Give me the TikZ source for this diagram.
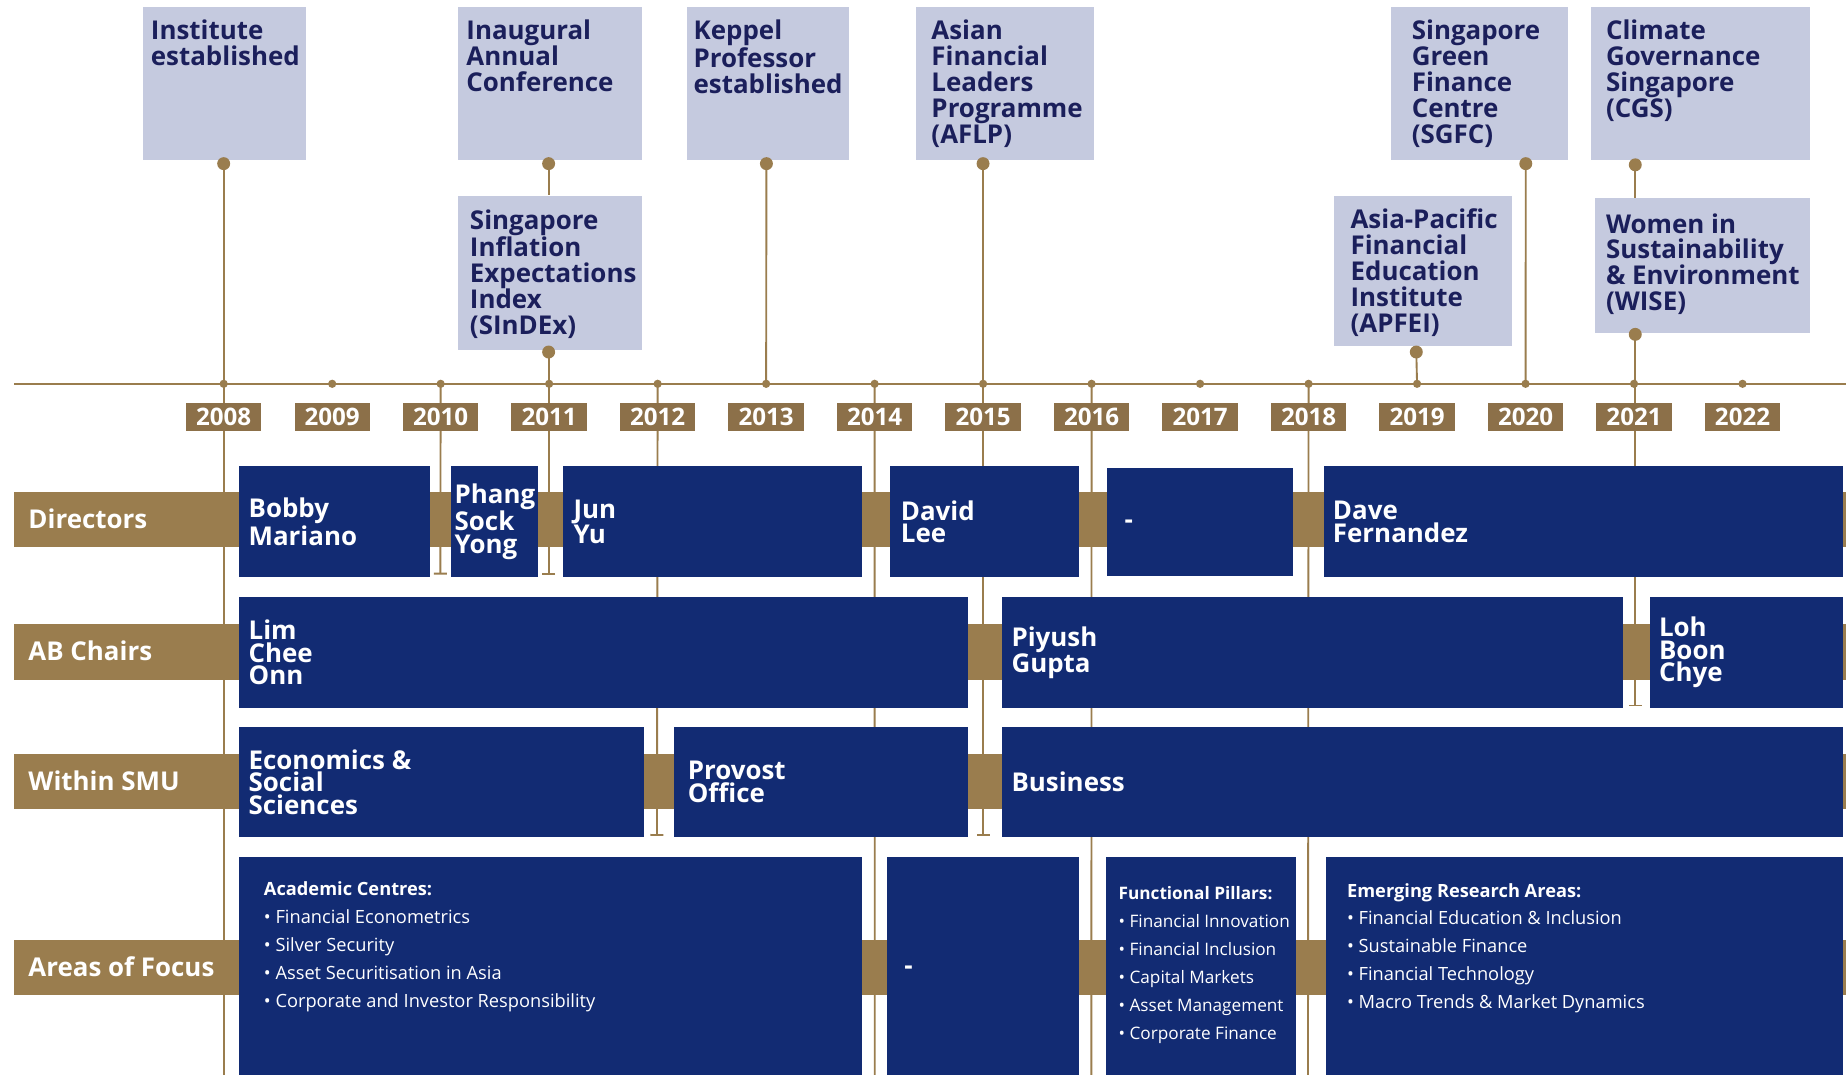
\documentclass[tikz,border=0pt]{standalone}
\usepackage{fontspec}
\setmainfont{Open Sans}
\usetikzlibrary{arrows.meta}
\definecolor{navy}{HTML}{122B73}
\definecolor{gold}{HTML}{9A7D4E}
\definecolor{goldd}{HTML}{8C7049}
\definecolor{lav}{HTML}{C5CADF}
\definecolor{ink}{HTML}{1B1F5B}
\pgfdeclarelayer{back}
\pgfsetlayers{back,main}
\tikzset{
 evbox/.style={fill=lav, inner sep=0, anchor=north west},
 evtxt/.style={text=ink, font=\bfseries\fontsize{22}{22}\selectfont, align=left, anchor=north west, inner sep=0},
 vline/.style={draw=gold, line width=1.6},
 capped/.style={vline, -{Bar[width=11pt,line width=1.6pt]}},
 bigdot/.style={circle, fill=gold, inner sep=0, minimum size=11},
 smalldot/.style={circle, fill=gold, inner sep=0, minimum size=7},
 yr/.style={fill=goldd, text=white, font=\bfseries\fontsize{20.5}{20.5}\selectfont, minimum width=64, minimum height=24, inner sep=0},
 band/.style={fill=gold, inner sep=0, anchor=north west},
 blk/.style={fill=navy, inner sep=0, anchor=north west},
 nm/.style={text=white, font=\bfseries\fontsize{22}{19}\selectfont, align=left, anchor=west, inner sep=0},
 rowlbl/.style={text=white, font=\bfseries\fontsize{22}{22}\selectfont, anchor=west, inner sep=0},
 lst/.style={text=white, font=\fontsize{15.5}{23.7}\selectfont, align=left, anchor=north west, inner sep=0},
}
\begin{document}
\begin{tikzpicture}[x=1pt,y=-1pt]
\useasboundingbox (0,0) rectangle (1568,913);
\begin{pgfonlayer}{back}
\fill[white] (0,0) rectangle (1568,913);
\end{pgfonlayer}

% axis ticks and year labels
\foreach \yr [count=\i from 0] in {2008,2009,2010,2011,2012,2013,2014,2015,2016,2017,2018,2019,2020,2021,2022} {
  \node[smalldot] (t\yr) at (190+92.15*\i,326) {};
  \node[yr] (l\yr) at (190+92.15*\i,354) {\yr};
}
\coordinate (axL) at (12,326);
\coordinate (axR) at (1568,326);

% row bands
\node[band, minimum width=1556, minimum height=46] (bDir) at (12,418) {};
\node[band, minimum width=1556, minimum height=47] (bAB) at (12,530) {};
\node[band, minimum width=1556, minimum height=47] (bSMU) at (12,640) {};
\node[band, minimum width=1556, minimum height=47] (bAoF) at (12,798) {};
\node[rowlbl] (lDir) at (24,441) {Directors};
\node[rowlbl] (lAB) at (24,553) {AB Chairs};
\node[rowlbl] (lSMU) at (24,663) {Within SMU};
\node[rowlbl] (lAoF) at (24,821) {Areas of Focus};

% Directors
\node[blk, minimum width=162, minimum height=94] (bobby) at (203,396) {};
\node[nm] at ([xshift=8]bobby.west) {Bobby\\Mariano};
\node[blk, minimum width=74, minimum height=94] (phang) at (383,396) {};
\node[nm] at ([xshift=3]phang.west) {Phang\\Sock\\Yong};
\node[blk, minimum width=254, minimum height=94] (jun) at (478,396) {};
\node[nm] at ([xshift=9]jun.west) {Jun\\Yu};
\node[blk, minimum width=160, minimum height=94] (david) at (756,396) {};
\node[nm] at ([xshift=9]david.west) {David\\Lee};
\node[blk, minimum width=158, minimum height=92] (dashA) at (940,397) {};
\node[nm] at ([shift={(15,2)}]dashA.west) {-};
\node[blk, minimum width=441, minimum height=94] (dave) at (1124,396) {};
\node[nm] at ([xshift=8]dave.west) {Dave\\Fernandez};

% AB Chairs
\node[blk, minimum width=619, minimum height=94] (lim) at (203,507) {};
\node[nm] at ([xshift=8]lim.west) {Lim\\Chee\\Onn};
\node[blk, minimum width=527, minimum height=94] (piyush) at (851,507) {};
\node[nm] at ([xshift=8]piyush.west) {Piyush\\Gupta};
\node[blk, minimum width=164, minimum height=94] (loh) at (1401,507) {};
\node[nm] at ([xshift=8]loh.west) {Loh\\Boon\\Chye};

% Within SMU
\node[blk, minimum width=344, minimum height=94] (econ) at (203,617) {};
\node[nm] at ([xshift=8]econ.west) {Economics \&\\Social\\Sciences};
\node[blk, minimum width=250, minimum height=94] (provost) at (572,617) {};
\node[nm] at ([xshift=12]provost.west) {Provost\\Office};
\node[blk, minimum width=714, minimum height=94] (business) at (851,617) {};
\node[nm] at ([xshift=8]business.west) {Business};

% Areas of Focus
\node[blk, minimum width=529, minimum height=185] (acad) at (203,728) {};
\node[lst] at ([shift={(21,21)}]acad.north west) {{\bfseries Academic Centres:}\\• Financial Econometrics\\• Silver Security\\• Asset Securitisation in Asia\\• Corporate and Investor Responsibility};
\node[blk, minimum width=163, minimum height=185] (dashB) at (753,728) {};
\node[nm] at ([shift={(15,3)}]dashB.west) {-};
\node[blk, minimum width=162, minimum height=185] (func) at (939,728) {};
\node[lst, font=\fontsize{14.6}{23.7}\selectfont] at ([shift={(11,25)}]func.north west) {{\bfseries Functional Pillars:}\\• Financial Innovation\\• Financial Inclusion\\• Capital Markets\\• Asset Management\\• Corporate Finance};
\node[blk, minimum width=439, minimum height=185] (emer) at (1126,728) {};
\node[lst] at ([shift={(18,22)}]emer.north west) {{\bfseries Emerging Research Areas:}\\• Financial Education \& Inclusion\\• Sustainable Finance\\• Financial Technology\\• Macro Trends \& Market Dynamics};

% Event boxes
\node[evbox, minimum width=139, minimum height=130] (inst) at (121,6) {};
\node[evtxt] at ([shift={(7,11)}]inst.north west) {Institute\\established};
\node[evbox, minimum width=156, minimum height=130] (inaug) at (389,6) {};
\node[evtxt] at ([shift={(7,11)}]inaug.north west) {Inaugural\\Annual\\Conference};
\node[evbox, minimum width=156, minimum height=131] (sindex) at (389,166) {};
\node[evtxt] at ([shift={(10,12)}]sindex.north west) {Singapore\\Inflation\\Expectations\\Index\\(SInDEx)};
\node[evbox, minimum width=138, minimum height=130] (keppel) at (583,6) {};
\node[evtxt] at ([shift={(6,11)}]keppel.north west) {Keppel\\Professor\\established};
\node[evbox, minimum width=151, minimum height=130] (aflp) at (778,6) {};
\node[evtxt] at ([shift={(13,11)}]aflp.north west) {Asian\\Financial\\Leaders\\Programme\\(AFLP)};
\node[evbox, minimum width=151, minimum height=130] (sgfc) at (1181,6) {};
\node[evtxt] at ([shift={(18,11)}]sgfc.north west) {Singapore\\Green\\Finance\\Centre\\(SGFC)};
\node[evbox, minimum width=151, minimum height=128] (apfei) at (1133,166) {};
\node[evtxt] at ([shift={(14,11)}]apfei.north west) {Asia-Pacific\\Financial\\Education\\Institute\\(APFEI)};
\node[evbox, minimum width=186, minimum height=130] (cgs) at (1351,6) {};
\node[evtxt] at ([shift={(13,11)}]cgs.north west) {Climate\\Governance\\Singapore\\(CGS)};
\node[evbox, minimum width=182, minimum height=115] (wise) at (1355,168) {};
\node[evtxt] at ([shift={(9,13)}]wise.north west) {Women in\\Sustainability\\\& Environment\\(WISE)};

% event dots
\node[bigdot] (dInst) at (190,139) {};
\node[bigdot] (dInaug) at (466,139) {};
\node[bigdot] (dSindex) at (466,299) {};
\node[bigdot] (dKeppel) at (651,139) {};
\node[bigdot] (dAflp) at (835,139) {};
\node[bigdot] (dSgfc) at (1296,139) {};
\node[bigdot] (dApfei) at (1203,299) {};
\node[bigdot] (dCgs) at (1389,140) {};
\node[bigdot] (dWise) at (1389,284) {};

% end points
\coordinate (e08) at (190,913);
\coordinate (e10) at (374,488);
\coordinate (e11) at (466,488);
\coordinate (e12) at (558,710);
\coordinate (e14) at (743,913);
\coordinate (e15) at (835,710);
\coordinate (e16) at (927,913);
\coordinate (e18) at (1111,913);
\coordinate (e21) at (1389,600);
\coordinate (w21) at (1389,168);
\coordinate (s11) at (466,166);

\begin{pgfonlayer}{back}
\draw[vline, line width=2] (axL) -- (axR);
\draw[vline] (dInst.center) -- (e08);
\draw[capped] (t2010.center) -- (e10);
\draw[vline] (dInaug.center) -- (s11);
\draw[capped] (dSindex.center) -- (e11);
\draw[capped] (t2012.center) -- (e12);
\draw[vline] (dKeppel.center) -- (t2013.center);
\draw[vline] (t2014.center) -- (e14);
\draw[capped] (dAflp.center) -- (e15);
\draw[vline] (t2016.center) -- (e16);
\draw[vline] (t2018.center) -- (e18);
\draw[vline] (dApfei.center) -- (t2019.center);
\draw[vline] (dSgfc.center) -- (t2020.center);
\draw[vline] (dCgs.center) -- (w21);
\draw[capped] (dWise.center) -- (e21);
\end{pgfonlayer}
\end{tikzpicture}
\end{document}
